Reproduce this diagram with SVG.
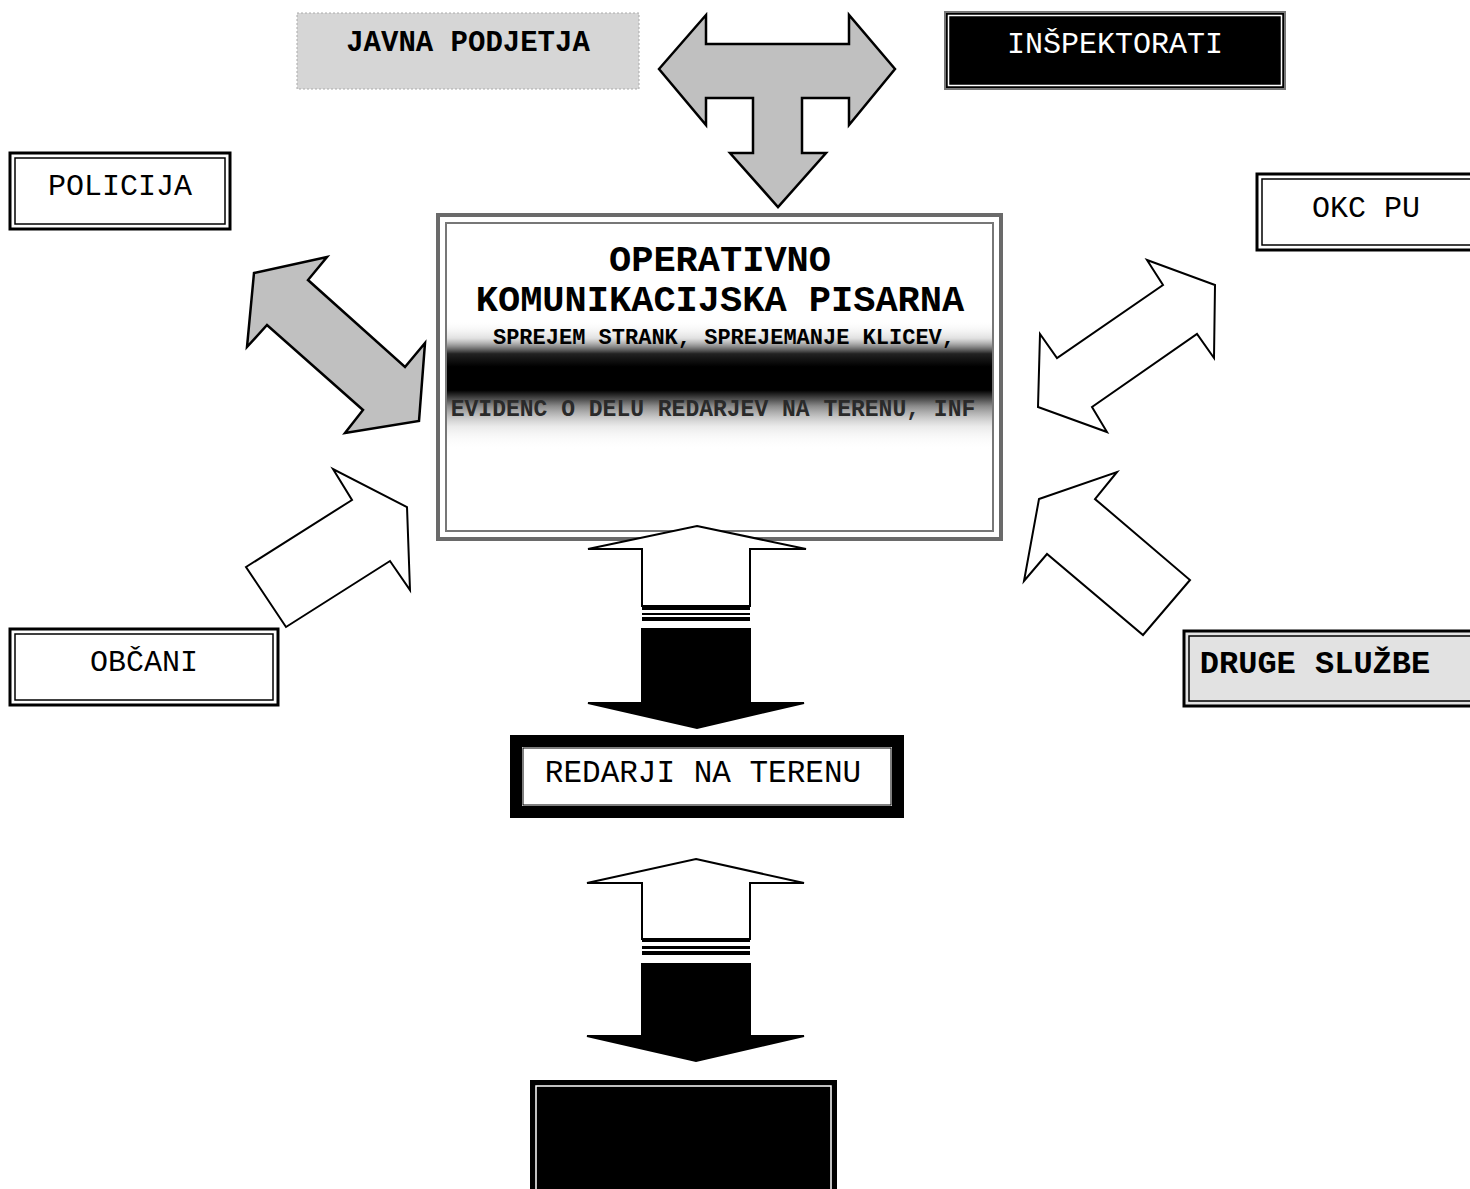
<svg xmlns="http://www.w3.org/2000/svg" width="1470" height="1189" viewBox="0 0 1470 1189">
<style>
.lbl{font-family:"Liberation Mono","Courier New",monospace;font-size:30px;fill:#000;text-anchor:middle}
.bold{font-weight:bold}
.dbl-out{fill:#fff;stroke:#000;stroke-width:3}
.dbl-in{fill:none;stroke:#000;stroke-width:1.5}
.arrow-w{fill:#fff;stroke:#000;stroke-width:2;stroke-linejoin:miter}
.arrow-g{fill:#c0c0c0;stroke:#000;stroke-width:2.5;stroke-linejoin:miter}
.arrow-b{fill:#000;stroke:#000;stroke-width:2}
</style>
<defs>
<linearGradient id="band" x1="0" y1="0" x2="0" y2="1">
<stop offset="0" stop-color="#fff" stop-opacity="0"/>
<stop offset="0.14" stop-color="#ccc" stop-opacity="0.6"/>
<stop offset="0.26" stop-color="#222"/>
<stop offset="0.36" stop-color="#000"/>
<stop offset="0.54" stop-color="#000"/>
<stop offset="0.66" stop-color="#888"/>
<stop offset="0.82" stop-color="#ddd" stop-opacity="0.6"/>
<stop offset="1" stop-color="#fff" stop-opacity="0"/>
</linearGradient>
</defs>

<g id="javna-podjetja">
<rect x="297" y="13" width="342" height="76" fill="#d6d6d6" stroke="#aaa" stroke-width="1" stroke-dasharray="2 2"/>
<text class="lbl bold" x="468" y="51" style="font-size:29px">JAVNA PODJETJA</text>
</g>

<g id="inspektorati">
<rect x="945" y="12" width="340" height="77" fill="#000" stroke="#777" stroke-width="2"/>
<rect x="948.5" y="15.5" width="333" height="70" fill="none" stroke="#fff" stroke-width="1.5"/>
<text class="lbl" x="1115" y="53" style="fill:#fff">INŠPEKTORATI</text>
</g>

<g id="policija">
<rect class="dbl-out" x="10" y="153" width="220" height="76"/>
<rect class="dbl-in" x="15" y="158" width="210" height="66"/>
<text class="lbl" x="120" y="195">POLICIJA</text>
</g>

<g id="okc-pu">
<rect class="dbl-out" x="1257" y="174" width="220" height="76"/>
<rect class="dbl-in" x="1262" y="179" width="210" height="66"/>
<text class="lbl" x="1366" y="217">OKC PU</text>
</g>

<g id="obcani">
<rect class="dbl-out" x="10" y="629" width="268" height="76"/>
<rect class="dbl-in" x="15" y="634" width="258" height="66"/>
<text class="lbl" x="144" y="671">OBČANI</text>
</g>

<g id="druge-sluzbe">
<rect x="1184" y="631" width="290" height="75" fill="#e2e2e2" stroke="#000" stroke-width="3"/>
<rect x="1189" y="636" width="285" height="65" fill="none" stroke="#000" stroke-width="1.5"/>
<text class="lbl bold" x="1315" y="673" style="font-size:32px">DRUGE SLUŽBE</text>
</g>

<g id="operativno-komunikacijska-pisarna">
<rect x="438" y="215" width="563" height="324" fill="#fff" stroke="#6a6a6a" stroke-width="4"/>
<rect x="446" y="223" width="547" height="308" fill="none" stroke="#777" stroke-width="2"/>
<rect x="447" y="320" width="545" height="130" fill="url(#band)"/>
<text class="lbl bold" x="720" y="271" style="font-size:37px">OPERATIVNO</text>
<text class="lbl bold" x="720" y="311" style="font-size:37px">KOMUNIKACIJSKA PISARNA</text>
<text class="lbl bold" x="724" y="344" style="font-size:22px">SPREJEM STRANK, SPREJEMANJE KLICEV,</text>
<text class="lbl bold" x="713" y="416" style="font-size:23px;fill:#2a2a2a">EVIDENC O DELU REDARJEV NA TERENU, INF</text>
</g>

<g id="redarji-na-terenu">
<rect x="516" y="741" width="382" height="71" fill="#fff" stroke="#000" stroke-width="12"/>
<rect x="523" y="748" width="368" height="57" fill="none" stroke="#000" stroke-width="1"/>
<text class="lbl" x="703" y="782" style="font-size:31px">REDARJI NA TERENU</text>
</g>

<g id="bottom-box">
<rect x="531" y="1081" width="305" height="120" fill="#000" stroke="#000" stroke-width="2"/>
<rect x="536" y="1086" width="295" height="110" fill="none" stroke="#fff" stroke-width="1.5"/>
</g>

<g id="connectors">
<path class="arrow-g" d="M659,69 L706,15 L706,44 L849,44 L849,15 L895,69 L849,125 L849,98 L802,98 L802,153 L826,153 L778,207 L730,153 L753,153 L753,98 L706,98 L706,125 Z"/>
<path class="arrow-g" d="M254,273 L327,257 L308,280 L405,367 L425,343 L419,421 L345,433 L363,410 L267,325 L247,347 Z"/>
<path class="arrow-w" d="M1147,260 L1215,285 L1214,358 L1197,334 L1092,407 L1107,432 L1038,407 L1040,334 L1057,358 L1163,285 Z"/>
<path class="arrow-w" d="M246,567 L352,500 L333,469 L407,507 L410,590 L390,561 L286,627 Z"/>
<path class="arrow-w" d="M1039,499 L1117,472 L1095,499 L1190,580 L1143,635 L1047,554 L1024,581 Z"/>
<path class="arrow-w" d="M697,526 L806,549 L750,549 L750,606 L642,606 L642,549 L588,549 Z"/>
<rect x="642" y="607" width="108" height="3" fill="#000"/>
<rect x="642" y="613" width="108" height="2" fill="#000"/>
<rect x="642" y="617" width="108" height="4" fill="#000"/>
<path class="arrow-b" d="M642,629 L750,629 L750,703 L804,703 L697,728 L588,703 L642,703 Z"/>
<path class="arrow-w" d="M696,859 L804,883 L750,883 L750,939 L642,939 L642,883 L587,883 Z"/>
<rect x="642" y="939" width="108" height="3" fill="#000"/>
<rect x="642" y="946" width="108" height="3" fill="#000"/>
<rect x="642" y="951" width="108" height="4" fill="#000"/>
<path class="arrow-b" d="M642,964 L750,964 L750,1036 L804,1036 L696,1061 L587,1036 L642,1036 Z"/>
</g>
</svg>
